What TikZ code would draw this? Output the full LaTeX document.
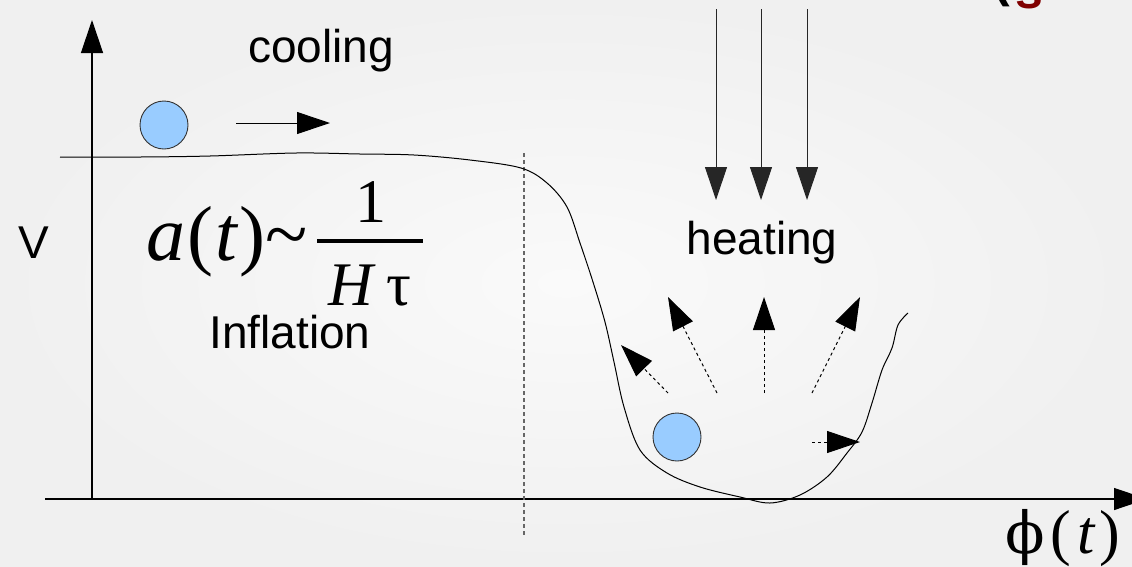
\documentclass[tikz,border=0pt]{standalone}
\usepackage[no-math]{fontspec}
\setmainfont{Liberation Sans}
\newfontfamily\formulafont{Liberation Serif}
\newfontfamily\greekfont{DejaVu Serif}
\usepackage{tikz}
\usetikzlibrary{arrows.meta}
\definecolor{ballblue}{RGB}{153,204,255}
\definecolor{titlered}{RGB}{128,0,0}
\definecolor{bginner}{RGB}{250,250,250}
\definecolor{bgouter}{RGB}{240,240,240}

\begin{document}
\begin{tikzpicture}[x=1pt, y=-1pt,
  every node/.style={inner sep=0pt},
  textlabel/.style={font=\fontsize{46}{50}\selectfont},
  ball/.style={circle, draw=black!80, line width=0.9pt, fill=ballblue,
               minimum size=48pt},
  axis/.style={line width=1.3pt, -{Triangle[length=33pt, width=22pt]}},
  arrow/.style={line width=1pt, -{Triangle[length=33pt, width=22pt]}},
  dasharrow/.style={arrow, dash pattern=on 3pt off 3pt},
  maths/.style={font=\formulafont\fontsize{78}{90}\selectfont},
  smallmaths/.style={font=\formulafont\fontsize{62}{70}\selectfont},
]

%% Canvas
\useasboundingbox (0,0) rectangle (1132,566);
\clip (0,0) rectangle (1132,566);
\shade[inner color=bginner, outer color=bgouter] (0,0) rectangle (1132,566);

%% Axes
\draw[axis] (45,499) -- (1147,499);
\draw[axis] (92,499) -- (92,20);
\draw[line width=1.1pt, black!60, dash pattern=on 4pt off 3pt] (524,153) -- (524,535);

%% Potential
\draw[line width=1pt] plot[smooth, tension=0.55] coordinates {
  (60,157) (140,157) (210,156) (296,153) (360,154) (414,155) (470,160)
  (521,168) (547,183) (567,207) (580,243) (593,282) (605,322) (614,362)
  (624,407) (640,450) (667,473) (700,487) (740,497) (770,503) (800,495)
  (827,477) (847,453) (862,432) (872,403) (882,370) (892,348) (898,325)
  (908,313)};

%% Balls
\node[ball] (top ball) at (164,125) {};
\node[ball] (bottom ball) at (677,437) {};
\draw[arrow] (236,123) -- (330,123);

%% Heating arrows
\draw[arrow, black!85] (716,9) -- (716,200);
\draw[arrow, black!85] (761,9) -- (761,200);
\draw[arrow, black!85] (807,9) -- (807,200);

%% Reheating arrows
\draw[dasharrow] (668,393) -- (621,345);
\draw[dasharrow] (717,393) -- (668,297);
\draw[dasharrow] (764,393) -- (764,297);
\draw[dasharrow] (812,393) -- (860,297);
\draw[dasharrow] (812,442) -- (860,442);

%% Labels
\node[textlabel, anchor=base] (cooling) at (321,62) {cooling};
\node[textlabel, anchor=base] (heating) at (762,254) {heating};
\node[textlabel, anchor=base] (inflation) at (290,348) {Inflation};
\node[textlabel, anchor=base] (V) at (34,258) {V};

%% Scale factor
\node[maths, anchor=base west] (scale) at (146,260)
  {\textit{a}\hspace{2pt}(\hspace{2pt}\textit{t}\hspace{1pt})\textasciitilde};
\node[smallmaths, anchor=base] (num) at (371,222) {1};
\node[smallmaths, anchor=base] (den) at (370,305) {\textit{H}\hspace{10pt}τ};
\draw[line width=3.5pt] (317,241) -- (423,241);

%% Field
\node[smallmaths, anchor=base west] (phi) at (1005,553)
  {{\greekfont\fontsize{58}{60}\selectfont ϕ}\hspace{6pt}(\hspace{6pt}\textit{t}\hspace{4pt})};

%% Cut title
\node[font=\bfseries\fontsize{50}{50}\selectfont, anchor=south] (paren) at (1002,7) {(};
\node[font=\bfseries\fontsize{50}{50}\selectfont, text=titlered, anchor=base] (title) at (1029,8) {s};

\end{tikzpicture}
\end{document}
